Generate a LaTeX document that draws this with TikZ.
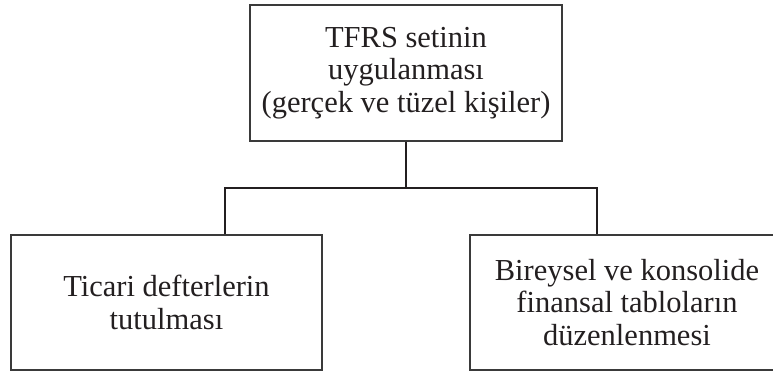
\documentclass[tikz,border=0pt]{standalone}
\usepackage{fontspec}
\setmainfont{Liberation Serif}
\definecolor{ink}{HTML}{231F20}
\definecolor{boxline}{HTML}{3A3A3A}
\tikzset{
  box/.style={draw=boxline, line width=1.3pt, rectangle, inner sep=0pt, align=center, text=ink,
    font=\fontsize{30.5}{32.5}\selectfont},
  conn/.style={draw=ink, line width=2.6pt}
}
\begin{document}
\begin{tikzpicture}[x=1pt,y=1pt]
\useasboundingbox (0,0) rectangle (773,-372);
\clip (0,0) rectangle (773,-372);
\node[box, minimum width=312pt, minimum height=136pt] (top) at (406,-73) {TFRS setinin\\uygulanması\\(gerçek ve tüzel kişiler)};
\node[box, minimum width=311pt, minimum height=135pt] (left) at (166.5,-302.5) {Ticari defterlerin\\tutulması};
\node[box, minimum width=314pt, minimum height=135pt] (right) at (627,-302.5) {Bireysel ve konsolide\\finansal tabloların\\düzenlenmesi};
\coordinate (j) at (406,-188);
\coordinate (lj) at (225,-188);
\coordinate (rj) at (597,-188);
\draw[conn] (top.south) -- (j);
\draw[conn] (lj |- left.north) -- (lj) -- (rj) -- (rj |- right.north);
\end{tikzpicture}
\end{document}
